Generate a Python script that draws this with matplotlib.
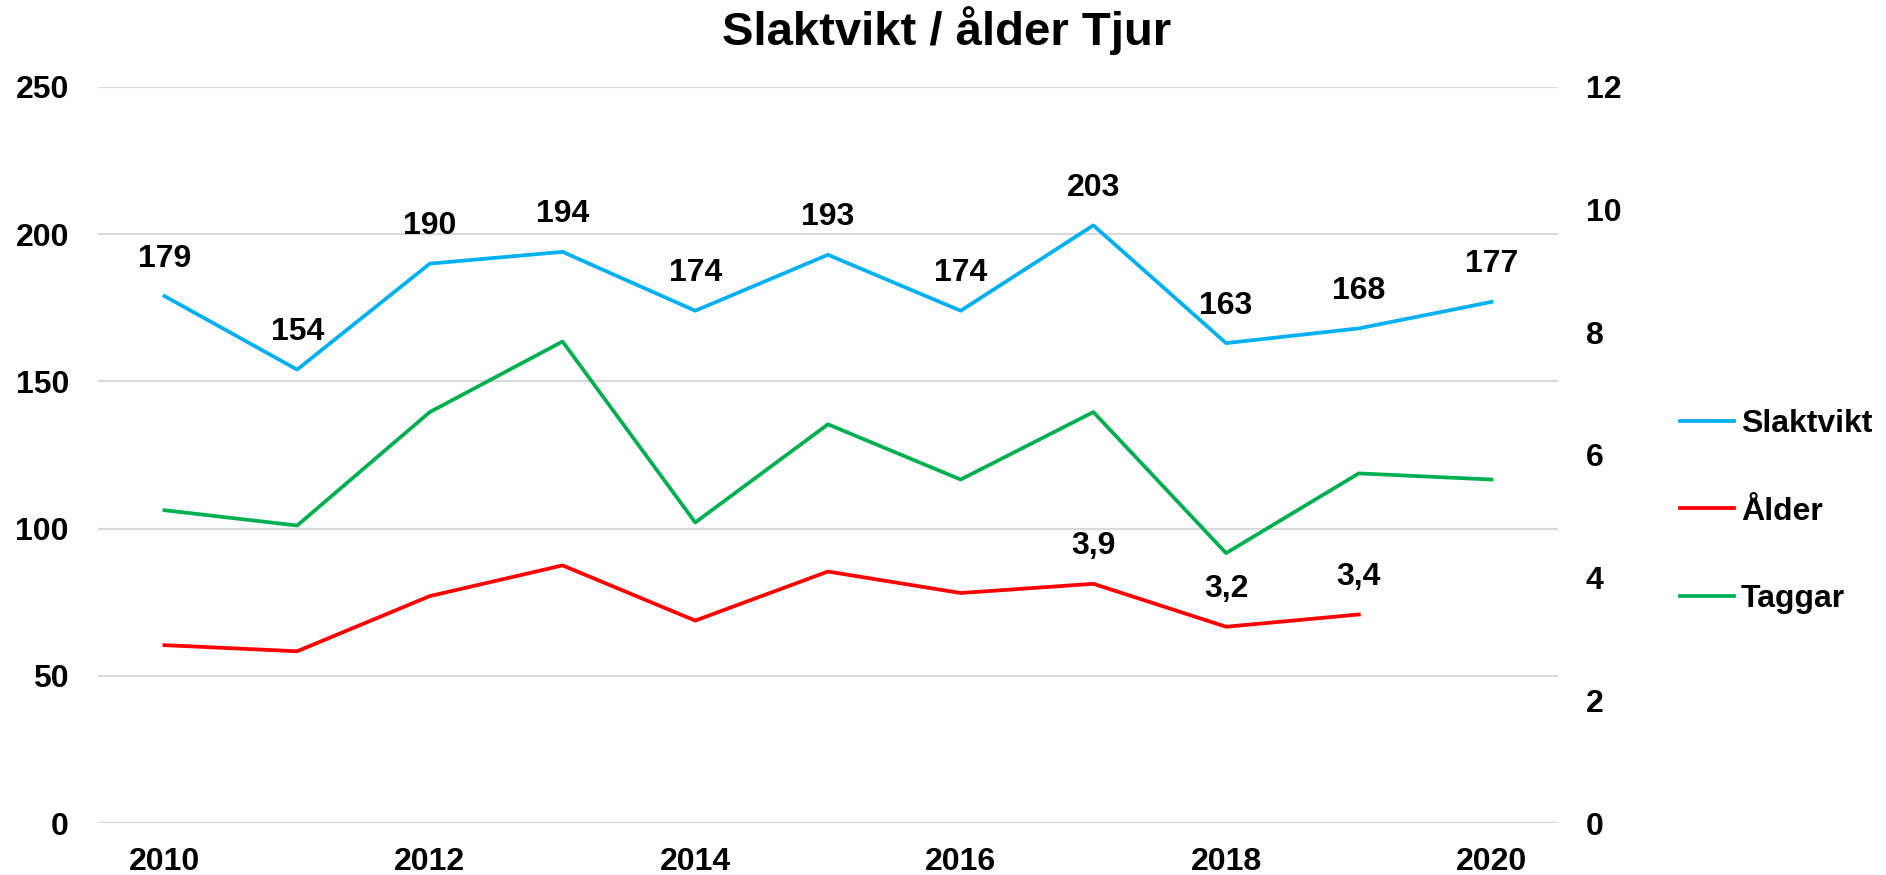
import numpy as np
import matplotlib
matplotlib.use("Agg")
import matplotlib.pyplot as plt

plt.rcParams['font.family'] = ['Liberation Sans', 'DejaVu Sans']
plt.rcParams['font.weight'] = 'bold'

# data
years = ['2010', '2011', '2012', '2013', '2014', '2015', '2016', '2017', '2018', '2019', '2020']
slaktvikt = [179, 154, 190, 194, 174, 193, 174, 203, 163, 168, 177]
alder = [2.9, 2.8, 3.7, 4.2, 3.3, 4.1, 3.75, 3.9, 3.2, 3.4, np.nan]
taggar = [5.1, 4.85, 6.7, 7.85, 4.9, 6.5, 5.6, 6.7, 4.4, 5.7, 5.6]
alder_labels = {7: '3,9', 8: '3,2', 9: '3,4'}

fs = 23

fig = plt.figure(figsize=(18.86, 8.75), dpi=100)
ax = fig.add_axes([0.052, 0.0594, 0.774, 0.8412])
ax2 = ax.twinx()

x = np.arange(len(years))
l1, = ax.plot(x, slaktvikt, color='#00B0F0', lw=2.7, label='Slaktvikt')
l2, = ax2.plot(x, alder, color='#FF0000', lw=2.7, label='Ålder')
l3, = ax2.plot(x, taggar, color='#00B050', lw=2.7, label='Taggar')

for i, v in enumerate(slaktvikt):
    ax.annotate(str(v), (x[i], v), xytext=(0, 27), textcoords='offset points',
                ha='center', va='center', fontsize=fs, fontweight='bold')
for i, s in alder_labels.items():
    ax2.annotate(s, (x[i], alder[i]), xytext=(0, 27), textcoords='offset points',
                 ha='center', va='center', fontsize=fs, fontweight='bold')

ax.set_xlim(-0.5, len(years) - 0.5)
ax.set_ylim(0, 250)
ax2.set_ylim(0, 12)
ax.set_yticks(np.arange(0, 251, 50))
ax2.set_yticks(np.arange(0, 13, 2))
ax.set_xticks(x[::2])
ax.set_xticklabels(years[::2])

ax.grid(axis='y', color='#D9D9D9', lw=1.5)
ax.set_axisbelow(True)
for a in (ax, ax2):
    for sp in a.spines.values():
        sp.set_visible(False)
ax.tick_params(axis='y', length=0, pad=21, labelsize=fs)
ax.tick_params(axis='x', length=0, pad=17, labelsize=fs)
ax2.tick_params(axis='y', length=0, pad=20, labelsize=fs)

fig.text(0.502, 1 - 31 / 875, 'Slaktvikt / ålder Tjur', ha='center', va='center',
         fontsize=34, fontweight='bold')

fig.legend(handles=[l1, l2, l3], loc='center left', bbox_to_anchor=(0.8908, 0.4153),
           frameon=False, fontsize=fs, handlelength=1.7, handletextpad=0.2,
           labelspacing=1.8, borderpad=0, borderaxespad=0)

fig.savefig('out.png', dpi=100)
